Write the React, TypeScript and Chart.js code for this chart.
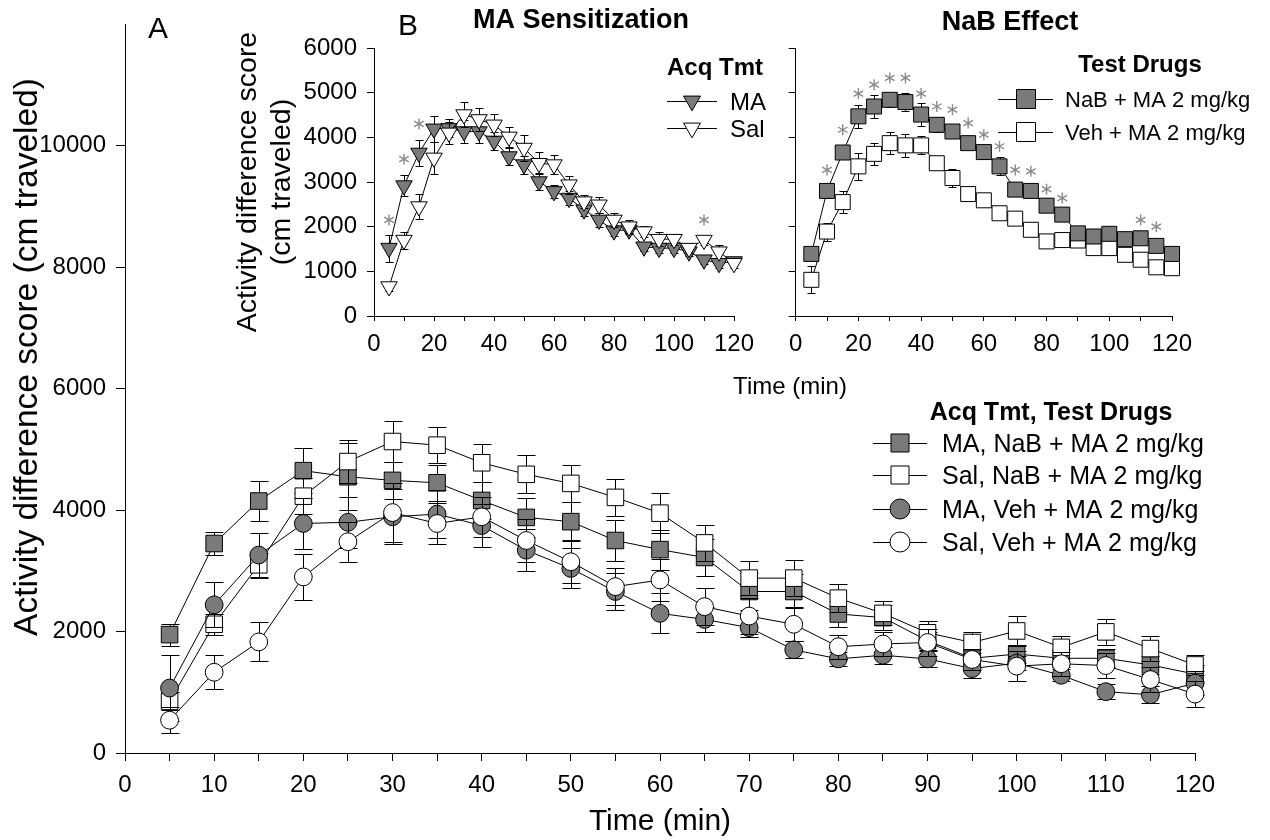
import React, { useEffect, useRef } from 'react';
import { Chart, registerables } from 'chart.js';

Chart.register(...registerables);

const FONT = '"Liberation Sans", Arial, Helvetica, sans-serif';
const GRAY = '#7a7a7a';
const STAR_GRAY = '#8a8a8a';

// ---------- data ----------
const times = [5, 10, 15, 20, 25, 30, 35, 40, 45, 50, 55, 60, 65, 70, 75, 80, 85, 90, 95, 100, 105, 110, 115, 120];

// Panel A (main chart)
const maNaB = [1950, 3450, 4150, 4650, 4550, 4490, 4450, 4160, 3880, 3810, 3500, 3350, 3220, 2660, 2660, 2290, 2230, 1850, 1560, 1630, 1560, 1560, 1450, 1300];
const maNaBErr = [180, 190, 330, 370, 550, 300, 300, 300, 320, 320, 330, 330, 300, 300, 280, 220, 200, 150, 150, 150, 150, 150, 150, 150];
const salNaB = [850, 2120, 3100, 4230, 4800, 5130, 5070, 4780, 4590, 4440, 4210, 3950, 3460, 2880, 2880, 2550, 2300, 1980, 1820, 2010, 1740, 1995, 1720, 1450];
const salNaBErr = [150, 170, 200, 300, 350, 340, 300, 310, 310, 310, 310, 330, 300, 280, 300, 230, 200, 200, 180, 250, 180, 220, 200, 160];
const maVeh = [1070, 2440, 3260, 3780, 3800, 3890, 3935, 3745, 3340, 3040, 2660, 2300, 2200, 2065, 1700, 1550, 1610, 1550, 1390, 1480, 1280, 1010, 960, 1150];
const maVehErr = [550, 370, 370, 420, 420, 450, 400, 360, 350, 330, 300, 330, 200, 150, 140, 120, 140, 130, 150, 120, 100, 120, 140, 200];
const salVeh = [540, 1330, 1830, 2900, 3480, 3960, 3780, 3890, 3500, 3150, 2740, 2850, 2410, 2255, 2120, 1750, 1795, 1820, 1540, 1430, 1470, 1440, 1210, 970];
const salVehErr = [210, 280, 320, 380, 330, 480, 330, 330, 350, 350, 300, 350, 300, 300, 280, 200, 200, 220, 180, 250, 200, 200, 200, 220];

// Panel B left: MA Sensitization
const sensMA = [1520, 2920, 3650, 4190, 4200, 4130, 4130, 3920, 3570, 3390, 3010, 2790, 2640, 2380, 2150, 1910, 1930, 1550, 1520, 1520, 1440, 1260, 1180, 1220];
const sensMAErr = [300, 230, 300, 290, 200, 250, 250, 200, 200, 200, 200, 150, 150, 150, 150, 120, 100, 100, 100, 100, 100, 100, 100, 80];
const sensSal = [660, 1700, 2450, 3540, 4100, 4510, 4400, 4280, 4010, 3760, 3420, 3390, 2940, 2560, 2490, 2150, 2000, 1890, 1720, 1720, 1520, 1700, 1440, 1180];
const sensSalErr = [100, 190, 280, 350, 250, 270, 250, 250, 220, 300, 250, 220, 200, 150, 180, 150, 150, 120, 150, 120, 120, 100, 150, 100];
const sensStarTimes = [5, 10, 15, 110];
const sensStarValues = [2150, 3510, 4300, 2150];

// Panel B right: NaB Effect
const nabNaB = [1390, 2800, 3660, 4470, 4690, 4840, 4790, 4510, 4280, 4130, 3870, 3670, 3350, 2830, 2800, 2470, 2270, 1850, 1780, 1840, 1720, 1740, 1570, 1390];
const nabNaBErr = [100, 150, 150, 250, 250, 150, 200, 250, 150, 150, 100, 150, 200, 100, 100, 100, 100, 100, 80, 80, 80, 80, 100, 100];
const nabVeh = [810, 1890, 2550, 3350, 3630, 3870, 3820, 3820, 3420, 3090, 2730, 2590, 2300, 2180, 1930, 1670, 1700, 1690, 1520, 1520, 1370, 1260, 1090, 1070];
const nabVehErr = [300, 200, 250, 300, 250, 250, 250, 200, 100, 200, 100, 100, 100, 100, 100, 100, 100, 100, 100, 100, 100, 100, 100, 100];
const nabStarTimes = [10, 15, 20, 25, 30, 35, 40, 45, 50, 55, 60, 65, 70, 75, 80, 85, 110, 115];
const nabStarValues = [3270, 4170, 4980, 5180, 5330, 5330, 4980, 4690, 4620, 4320, 4060, 3800, 3270, 3240, 2840, 2640, 2150, 2000];

// axis ranges / ticks
const mainYMax = 12000;
const mainYStep = 2000;
const mainYLabelMax = 10000;
const insetYMax = 6000;
const insetYStep = 1000;

// ---------- helpers ----------
function series(values: number[], errs: number[], style: string, fill: string, radius: number, order: number, capHalf: number, rotation = 0) {
  return {
    data: times.map((t, i) => ({ x: t, y: values[i] })),
    errors: errs,
    capHalf,
    showLine: true,
    borderColor: '#000',
    borderWidth: 1,
    pointStyle: style,
    pointRadius: radius,
    pointHoverRadius: radius,
    pointBackgroundColor: fill,
    pointBorderColor: '#000',
    pointBorderWidth: 1,
    pointRotation: rotation,
    order,
    clip: false,
    tension: 0,
    fill: false,
  };
}

const errorBarPlugin = {
  id: 'errorBars',
  beforeDatasetDraw(chart: any, args: any) {
    const ds = chart.data.datasets[args.index];
    if (!ds || !ds.errors) return;
    const xs = chart.scales.x;
    const ys = chart.scales.y;
    const ctx = chart.ctx;
    ctx.save();
    ctx.strokeStyle = '#000';
    ctx.lineWidth = 1;
    ds.data.forEach((p: any, i: number) => {
      const e = ds.errors[i];
      if (!e) return;
      const px = Math.round(xs.getPixelForValue(p.x)) + 0.5;
      const top = Math.round(ys.getPixelForValue(p.y + e)) + 0.5;
      const bot = Math.round(ys.getPixelForValue(p.y - e)) + 0.5;
      const c = ds.capHalf;
      ctx.beginPath();
      ctx.moveTo(px, top); ctx.lineTo(px, bot);
      ctx.moveTo(px - c, top); ctx.lineTo(px + c, top);
      ctx.moveTo(px - c, bot); ctx.lineTo(px + c, bot);
      ctx.stroke();
    });
    ctx.restore();
  },
};

function starPlugin(xsArr: number[], ysArr: number[]) {
  return {
    id: 'stars',
    afterDatasetsDraw(chart: any) {
      const ctx = chart.ctx;
      const xs = chart.scales.x;
      const ys = chart.scales.y;
      ctx.save();
      ctx.strokeStyle = STAR_GRAY;
      ctx.lineWidth = 1.4;
      xsArr.forEach((t, i) => {
        const px = xs.getPixelForValue(t);
        const py = ys.getPixelForValue(ysArr[i]);
        const L = 5.5;
        ctx.beginPath();
        for (const a of [90, 30, 150]) {
          const r = (a * Math.PI) / 180;
          ctx.moveTo(px - Math.cos(r) * L, py - Math.sin(r) * L);
          ctx.lineTo(px + Math.cos(r) * L, py + Math.sin(r) * L);
        }
        ctx.stroke();
      });
      ctx.restore();
    },
  };
}

function txt(ctx: any, s: string, x: number, y: number, size: number, bold = false, align = 'left', baseline = 'alphabetic') {
  ctx.save();
  ctx.font = `${bold ? 'bold ' : ''}${size}px ${FONT}`;
  ctx.fillStyle = '#000';
  ctx.textAlign = align;
  ctx.textBaseline = baseline;
  ctx.fillText(s, x, y);
  ctx.restore();
}

function vtxt(ctx: any, s: string, x: number, y: number, size: number) {
  ctx.save();
  ctx.translate(x, y);
  ctx.rotate(-Math.PI / 2);
  ctx.font = `${size}px ${FONT}`;
  ctx.fillStyle = '#000';
  ctx.textAlign = 'center';
  ctx.textBaseline = 'middle';
  ctx.fillText(s, 0, 0);
  ctx.restore();
}

function marker(ctx: any, kind: string, x: number, y: number, size: number, fill: string) {
  ctx.save();
  ctx.fillStyle = fill;
  ctx.strokeStyle = '#000';
  ctx.lineWidth = 1;
  ctx.beginPath();
  if (kind === 'rect') ctx.rect(x - size / 2, y - size / 2, size, size);
  else if (kind === 'circle') ctx.arc(x, y, size / 2, 0, Math.PI * 2);
  else {
    const r = size / 1.732;
    ctx.moveTo(x - size / 2, y - r / 2);
    ctx.lineTo(x + size / 2, y - r / 2);
    ctx.lineTo(x, y + r);
    ctx.closePath();
  }
  ctx.fill();
  ctx.stroke();
  ctx.restore();
}

function legendRow(ctx: any, kind: string, fill: string, x0: number, x1: number, mx: number, y: number, size: number, label: string, tx: number, fs: number) {
  ctx.save();
  ctx.strokeStyle = '#000';
  ctx.lineWidth = 1;
  ctx.beginPath();
  ctx.moveTo(x0, Math.round(y) + 0.5);
  ctx.lineTo(x1, Math.round(y) + 0.5);
  ctx.stroke();
  ctx.restore();
  marker(ctx, kind, mx, y, size, fill);
  txt(ctx, label, tx, y + fs * 0.36, fs);
}

const annotationPlugin = {
  id: 'annotations',
  afterDraw(chart: any) {
    const ctx = chart.ctx;
    // panel letters and titles
    txt(ctx, 'A', 148, 38, 30);
    txt(ctx, 'B', 398, 35, 30);
    txt(ctx, 'MA Sensitization', 581, 28, 27, true, 'center');
    txt(ctx, 'NaB Effect', 1010, 30, 27, true, 'center');
    // axis titles
    vtxt(ctx, 'Activity difference score (cm traveled)', 28, 357, 33.5);
    txt(ctx, 'Time (min)', 660, 830, 30, false, 'center');
    vtxt(ctx, 'Activity difference score', 248, 182, 28.5);
    vtxt(ctx, '(cm traveled)', 282, 182, 28.5);
    txt(ctx, 'Time (min)', 790, 394, 24, false, 'center');
    // inset legends
    txt(ctx, 'Acq Tmt', 715, 75, 24, true, 'center');
    legendRow(ctx, 'tri', GRAY, 667, 717, 692, 101, 17, 'MA', 730, 24);
    legendRow(ctx, 'tri', '#fff', 667, 717, 692, 128, 17, 'Sal', 730, 24);
    txt(ctx, 'Test Drugs', 1140, 72, 24, true, 'center');
    legendRow(ctx, 'rect', GRAY, 998, 1053, 1026, 99, 19, 'NaB + MA 2 mg/kg', 1065, 22);
    legendRow(ctx, 'rect', '#fff', 998, 1053, 1026, 132, 19, 'Veh + MA 2 mg/kg', 1065, 22);
    // main legend
    txt(ctx, 'Acq Tmt, Test Drugs', 1051, 420, 25, true, 'center');
    legendRow(ctx, 'rect', GRAY, 873, 927, 900, 443, 18, 'MA, NaB + MA 2 mg/kg', 942, 25);
    legendRow(ctx, 'rect', '#fff', 873, 927, 900, 475, 18, 'Sal, NaB + MA 2 mg/kg', 942, 25);
    legendRow(ctx, 'circle', GRAY, 873, 927, 900, 509, 20, 'MA, Veh + MA 2 mg/kg', 942, 25);
    legendRow(ctx, 'circle', '#fff', 873, 927, 900, 542, 20, 'Sal, Veh + MA 2 mg/kg', 942, 25);
  },
};

function axisCommon(tickLen: number, fontSize: number, padding: number) {
  return {
    grid: { display: true, drawOnChartArea: false, drawTicks: true, tickLength: tickLen, color: '#000', tickWidth: 1 },
    border: { display: true, color: '#000', width: 1 },
    ticks: { font: { family: FONT, size: fontSize }, color: '#000', padding, autoSkip: false, maxRotation: 0, minRotation: 0 },
  };
}

function mainConfig(): any {
  const xa = axisCommon(8, 24, 10);
  const ya = axisCommon(9, 24, 10);
  return {
    type: 'line',
    data: {
      datasets: [
        series(maNaB, maNaBErr, 'rect', GRAY, 11.7, 4, 9),
        series(salNaB, salNaBErr, 'rect', '#fff', 11.7, 3, 9),
        series(maVeh, maVehErr, 'circle', GRAY, 8.9, 2, 9),
        series(salVeh, salVehErr, 'circle', '#fff', 8.9, 1, 9),
      ],
    },
    options: {
      animation: false,
      responsive: false,
      maintainAspectRatio: false,
      events: [],
      layout: { padding: { top: 12, right: 75, left: 0, bottom: 0 } },
      plugins: { legend: { display: false }, tooltip: { enabled: false } },
      scales: {
        x: {
          type: 'linear', min: 0, max: 120,
          afterFit: (s: any) => { s.height = 87; },
          grid: xa.grid, border: xa.border,
          ticks: { ...xa.ticks, stepSize: 5, callback: (v: any) => (v % 10 === 0 ? String(v) : '') },
        },
        y: {
          type: 'linear', min: 0, max: mainYMax,
          afterFit: (s: any) => { s.width = 125; },
          afterBuildTicks: (s: any) => { s.ticks = s.ticks.filter((t: any) => t.value <= mainYLabelMax); },
          grid: ya.grid, border: ya.border,
          ticks: { ...ya.ticks, stepSize: mainYStep, callback: (v: any) => String(v) },
        },
      },
    },
    plugins: [errorBarPlugin, annotationPlugin],
  };
}

function insetScales(yWidth: number, xHeight: number, showYLabels: boolean) {
  const xa = axisCommon(5, 24, 9);
  const ya = axisCommon(7, 24, 10);
  return {
    x: {
      type: 'linear', min: 0, max: 120,
      afterFit: (s: any) => { s.height = xHeight; },
      grid: xa.grid, border: xa.border,
      ticks: { ...xa.ticks, stepSize: 10, callback: (v: any) => (v % 20 === 0 ? String(v) : '') },
    },
    y: {
      type: 'linear', min: 0, max: insetYMax,
      afterFit: (s: any) => { s.width = yWidth; },
      grid: ya.grid, border: ya.border,
      ticks: { ...ya.ticks, stepSize: insetYStep, callback: (v: any) => (showYLabels ? String(v) : '') },
    },
  };
}

function leftConfig(): any {
  return {
    type: 'line',
    data: {
      datasets: [
        series(sensMA, sensMAErr, 'triangle', GRAY, 9.5, 2, 4, 180),
        series(sensSal, sensSalErr, 'triangle', '#fff', 9.5, 1, 4, 180),
      ],
    },
    options: {
      animation: false, responsive: false, maintainAspectRatio: false, events: [],
      layout: { padding: { top: 48, right: 56, left: 0, bottom: 0 } },
      plugins: { legend: { display: false }, tooltip: { enabled: false } },
      scales: insetScales(194, 84, true),
    },
    plugins: [errorBarPlugin, starPlugin(sensStarTimes, sensStarValues)],
  };
}

function rightConfig(): any {
  return {
    type: 'line',
    data: {
      datasets: [
        series(nabNaB, nabNaBErr, 'rect', GRAY, 10.6, 1, 4),
        series(nabVeh, nabVehErr, 'rect', '#fff', 10.6, 2, 4),
      ],
    },
    options: {
      animation: false, responsive: false, maintainAspectRatio: false, events: [],
      layout: { padding: { top: 48, right: 98, left: 0, bottom: 0 } },
      plugins: { legend: { display: false }, tooltip: { enabled: false } },
      scales: insetScales(12, 84, false),
    },
    plugins: [errorBarPlugin, starPlugin(nabStarTimes, nabStarValues)],
  };
}

export default function App() {
  const mainRef = useRef<HTMLCanvasElement>(null);
  const leftRef = useRef<HTMLCanvasElement>(null);
  const rightRef = useRef<HTMLCanvasElement>(null);

  useEffect(() => {
    const charts = [
      new Chart(mainRef.current as HTMLCanvasElement, mainConfig()),
      new Chart(leftRef.current as HTMLCanvasElement, leftConfig()),
      new Chart(rightRef.current as HTMLCanvasElement, rightConfig()),
    ];
    return () => charts.forEach((c) => c.destroy());
  }, []);

  return (
    <div style={{ position: 'absolute', left: 0, top: 0, width: 1270, height: 840, background: '#fff', overflow: 'hidden' }}>
      <canvas ref={mainRef} width={1270} height={840} style={{ position: 'absolute', left: 0, top: 0 }} />
      <canvas ref={leftRef} width={610} height={400} style={{ position: 'absolute', left: 180, top: 0 }} />
      <canvas ref={rightRef} width={490} height={400} style={{ position: 'absolute', left: 780, top: 0 }} />
    </div>
  );
}
